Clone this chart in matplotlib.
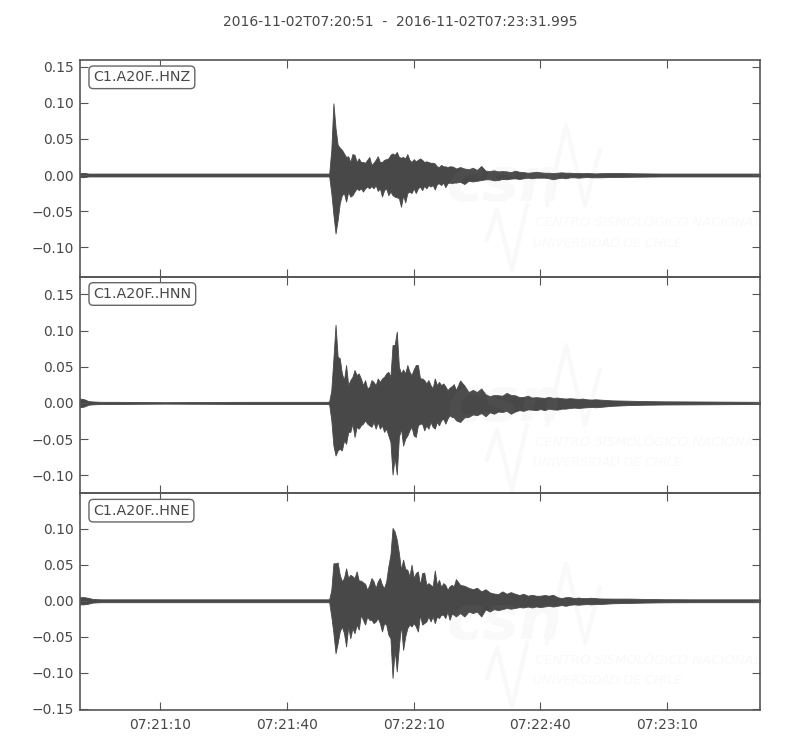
from datetime import datetime, timedelta

import matplotlib
matplotlib.use("Agg")
import matplotlib.pyplot as plt
import matplotlib.dates as mdates
import numpy as np

START = datetime(2016, 11, 2, 7, 20, 51)
DURATION = 160.995
TITLE = "2016-11-02T07:20:51  -  2016-11-02T07:23:31.995"
LABELS = ["C1.A20F..HNZ", "C1.A20F..HNN", "C1.A20F..HNE"]
TICK_TIMES = ["07:21:10", "07:21:40", "07:22:10", "07:22:40", "07:23:10"]
Y_TICKS = [-0.15, -0.10, -0.05, 0.00, 0.05, 0.10, 0.15]
Y_LIMS = [(-0.141, 0.1595), (-0.125, 0.1745), (-0.1515, 0.149)]

# envelope of each trace, seconds since START and amplitude x 1000
T_HEAD = [0, 1, 2, 3, 5, 8, 20, 40, 58.6]
T_MAIN = [59, 59.5, 60, 60.5, 61, 61.5, 62, 62.5, 63, 63.5, 64, 64.5, 65, 65.5, 66, 66.5,
          67, 67.5, 68, 68.5, 69, 69.5, 70, 70.5, 71, 71.5, 72, 72.5, 73, 73.5, 74, 74.5,
          75, 75.5, 76, 76.5, 77, 77.5, 78, 78.5, 79, 79.5, 80, 80.5, 81, 81.5, 82, 82.5,
          83, 83.5, 84, 84.5, 85, 85.5, 86, 86.5, 87, 87.5, 88, 88.5, 89]
T_TAIL = [90, 91, 92, 93, 94, 95, 96, 97, 98, 99, 100, 101, 102, 103, 104, 105, 106, 107,
          108, 109, 110, 111, 112, 113, 114, 115, 116, 117, 118, 119, 120, 121, 122, 123,
          126, 130, 134, 138, 145, 160.995]

HNZ_UP = [2.5, 3, 2, 2, 2, 2, 2, 2, 2,
          2, 35, 99.5, 65, 42, 38, 35, 30, 25, 26, 18, 29, 28, 18, 23, 18,
          18, 17, 21, 25, 14, 17, 21, 26, 18, 18, 21, 22, 23, 28, 30, 28,
          32, 25, 24, 25, 23, 29, 21, 18, 22, 19, 21, 23, 21, 18, 19, 18,
          17, 17, 16, 12, 11, 14, 12, 12, 11, 12, 12, 11, 9,
          11, 9, 8, 10, 7, 12.5, 6, 5.5, 6.5, 5, 5.5, 5, 4, 6, 4.5, 4, 3.2, 3.7, 4.5,
          3.7, 3.2, 3.2, 2.6, 3.2, 3.7, 3.2, 3.2, 2.8, 2.8, 2.5, 2.8, 2.5, 2.2, 2.5,
          2.8, 2.5, 2.2, 2, 2, 2]
HNZ_LOW = [3, 3, 2, 2, 2, 2, 2, 2, 2,
           2, 25, 55, 81, 62.5, 39, 28, 25, 37, 23, 30, 28, 23, 18.5, 21, 18.5,
           23, 18.5, 16, 18.5, 15.3, 18.5, 14, 22, 18.5, 30, 21, 18.5, 28, 23, 28, 30,
           31, 32, 44, 28, 38, 25, 23, 25, 18.5, 25, 18.5, 16, 21, 15, 18.5, 14,
           16, 14, 20, 12.5, 11.5, 14, 10.5, 17, 11.5, 10.5, 11.5, 10.5, 10.5,
           9.5, 12.5, 8, 9, 8, 7, 6, 6, 7.5, 7, 5.5, 6, 5, 4.6, 5.5, 4.6, 3.7, 4.6, 3.7,
           3.7, 3.7, 4.5, 6, 4.6, 3.7, 4.6, 3.2, 3.2, 3.7, 3.2, 2.8, 3.2, 3.2, 3.2,
           2.8, 2.5, 2.2, 2, 2, 2]

HNN_UP = [6, 5, 2.5, 2, 1.5, 1.5, 1, 1.5, 1.5,
          2, 17.6, 61.6, 108, 64, 61.6, 40.7, 31.5, 52.3, 24.5, 31.5, 36, 45.4, 38.4, 40.7, 33.8,
          24.5, 31.5, 20, 22, 31.5, 29, 24.5, 33.8, 29, 33.8, 36, 40.7, 43, 36, 80, 80,
          98.6, 50, 40.7, 46.3, 40.7, 52.3, 43, 38.4, 46.3, 52.3, 52.3, 33.8, 33.8, 31.5, 26.9, 31.5,
          24.5, 20, 33.8, 24.5, 29, 24.5, 26.9, 23, 17.6, 21, 23, 26, 17.6,
          31, 24, 15, 18, 15, 20, 12, 9.3, 11, 10.6, 10, 13.9, 11, 10.6, 8, 8.3, 10, 7.4,
          8, 7.4, 7, 8.3, 7, 7.4, 6.5, 6, 6.5, 6, 5.5, 6, 5, 4.6, 5, 4.6,
          3.5, 3, 2.5, 2.2, 2, 1.5]
HNN_LOW = [6, 5, 2.5, 2, 1.5, 1.5, 1, 1.5, 1.5,
           2.3, 24, 59, 72.7, 65.7, 63.4, 65.7, 52, 56.5, 40, 40, 28.7, 47, 33, 35.6, 31,
           28.7, 24, 28.7, 31, 33, 26.4, 35.6, 26.4, 35.6, 31, 40, 35.6, 45, 54, 99, 75,
           99, 47, 35.6, 59, 49.5, 45, 38, 33, 45, 47, 31, 28.7, 28.7, 38, 31, 35.6,
           26.4, 33, 35.6, 26.4, 31, 24, 21.8, 28.7, 21.8, 17, 19.4, 20, 24,
           26.4, 20, 19.4, 16, 17, 14, 18.5, 13, 15, 12, 12.5, 11, 15, 12, 10, 11, 9, 9.3,
           10, 8.5, 10, 7.9, 9, 9.3, 8, 7.9, 7, 6.5, 7, 6.5, 6, 5.6, 6, 5.6,
           4, 3, 2.5, 2.2, 2, 1.5]

HNE_UP = [5, 5, 4, 2.5, 2, 2, 2, 2, 2,
          2, 15, 52, 52, 53, 36, 27, 31.5, 45, 31.5, 36, 34, 31.5, 40.7, 28, 28,
          25.5, 23.6, 15, 22, 31.5, 27, 17.6, 27, 31.5, 22, 17.6, 27, 47.7, 64, 101, 96,
          84.7, 66, 43, 57, 44, 43, 34, 50, 31.5, 38.4, 40.7, 22, 38.4, 39, 22, 24.5,
          22, 20, 42, 22, 29, 19, 24.5, 22, 15, 20, 22, 20, 30,
          22, 20.8, 18, 16, 18, 13, 16, 11.6, 10, 9.3, 13, 9.7, 12, 9.7, 8, 9.7, 7, 8.3,
          7, 7, 8, 7, 8.3, 5, 3.7, 5, 5, 3.7, 4.5, 3.7, 3.7, 4.2, 3.7, 3.2,
          3, 3, 2.5, 2.2, 2, 2]
HNE_LOW = [5, 5, 4, 2.5, 2, 2, 2, 2, 2,
           2, 21.8, 45, 72.7, 58.8, 42.6, 35.6, 45, 63.4, 35.6, 52, 38, 45, 33, 40, 19.4,
           26.4, 33, 21.8, 26.4, 26.4, 31, 28.7, 24, 31, 42.6, 31, 33, 47, 52, 107, 68,
           98, 63.4, 33, 68, 49.5, 38, 33, 35.6, 31, 35.6, 42.6, 19.4, 33, 31, 28.7, 21.8,
           28.7, 21.8, 31, 21.8, 24, 19.4, 19.4, 24, 15, 26.4, 18, 19.4, 21.8,
           17, 21.8, 15, 17, 15, 21.8, 12, 15, 11.6, 13, 11.6, 10, 11, 10, 8.8, 9.3, 8, 9.3,
           7.9, 8.8, 7.9, 7, 8, 7, 6, 7, 5.6, 5, 5.5, 5, 4.6, 5, 4.6, 4.6,
           3.5, 3, 2.5, 2.2, 2, 2]

UPPER = [HNZ_UP, HNN_UP, HNE_UP]
LOWER = [HNZ_LOW, HNN_LOW, HNE_LOW]

TRACE_COLOR = "#484848"
FRAME_COLOR = "#555555"
TEXT_COLOR = "#484848"
MARK_COLOR = "#f9f9f9"

# faint logo strokes, figure pixels relative to the logo of the top panel
LOGO_LOW_X = [487, 497, 512, 527]
LOGO_LOW_Y = [240, 210, 270, 205]
LOGO_UP_X = [547, 566, 585, 600]
LOGO_UP_Y = [205, 125, 205, 150]
LOGO_SHIFT = [0, 220, 438]

W, H = 800, 750


def to_fig(px, py):
    return np.asarray(px) / W, 1 - np.asarray(py) / H


def draw_watermark(fig, shift):
    for xs, ys in [(LOGO_LOW_X, LOGO_LOW_Y), (LOGO_UP_X, LOGO_UP_Y)]:
        fx, fy = to_fig(xs, np.asarray(ys) + shift)
        fig.add_artist(plt.Line2D(fx, fy, color=MARK_COLOR, lw=3, zorder=-1))
    fig.text(*to_fig(505, 185 + shift), "csn", color=MARK_COLOR, fontsize=44, style="italic",
             fontweight="bold", ha="center", va="center", zorder=-1)
    fig.text(*to_fig(505, 185 + shift), "csn", color="white", alpha=0.03, fontsize=44, style="italic",
             fontweight="bold", ha="center", va="center", zorder=5)
    fig.text(*to_fig(535, 223 + shift), "CENTRO SISMOLÓGICO NACIONAL", color=MARK_COLOR,
             fontsize=9.5, style="italic", va="center", zorder=-1)
    fig.text(*to_fig(533, 243 + shift), "UNIVERSIDAD DE CHILE", color=MARK_COLOR,
             fontsize=9, style="italic", va="center", zorder=-1)


def fmt_amp(v, _pos):
    return f"{v:.2f}".replace("-", "\u2212")


def main():
    plt.rcParams["font.family"] = "DejaVu Sans"
    fig, axes = plt.subplots(3, 1, figsize=(W / 100, H / 100), sharex=True)
    fig.subplots_adjust(left=80 / W, right=760 / W, top=1 - 60 / H, bottom=1 - 710 / H, hspace=0)

    seconds = np.concatenate([T_HEAD, T_MAIN, T_TAIL])
    times = [START + timedelta(seconds=float(s)) for s in seconds]
    ticks = [datetime.strptime("2016-11-02 " + t, "%Y-%m-%d %H:%M:%S") for t in TICK_TIMES]

    for i, ax in enumerate(axes):
        ax.patch.set_alpha(0)
        ax.fill_between(times, -np.array(LOWER[i]) / 1000, np.array(UPPER[i]) / 1000,
                        color=TRACE_COLOR, lw=0.6)
        ax.set_ylim(*Y_LIMS[i])
        ax.set_xlim(START, START + timedelta(seconds=DURATION))
        ax.set_yticks([v for v in Y_TICKS if Y_LIMS[i][0] < v < Y_LIMS[i][1]])
        ax.yaxis.set_major_formatter(plt.FuncFormatter(fmt_amp))
        ax.set_xticks(ticks)
        ax.xaxis.set_major_formatter(mdates.DateFormatter("%H:%M:%S"))
        ax.tick_params(direction="in", top=True, right=True, length=6, width=0.8,
                       color=FRAME_COLOR, labelcolor=TEXT_COLOR, labelsize=10, pad=4.5)
        ax.tick_params(axis="x", pad=6)
        for spine in ax.spines.values():
            spine.set_color(FRAME_COLOR)
            spine.set_linewidth(1.2)
        ax.text(0.0195, 0.92, LABELS[i], transform=ax.transAxes, fontsize=10.3, color=TEXT_COLOR,
                ha="left", va="center",
                bbox=dict(boxstyle="round,pad=0.3", fc="white", ec="#666666", lw=1))

    for shift in LOGO_SHIFT:
        draw_watermark(fig, shift)

    fig.text(0.5, 1 - 21.5 / H, TITLE, ha="center", va="center", fontsize=10, color=TEXT_COLOR)
    fig.savefig("out.png", dpi=100, facecolor="white")


if __name__ == "__main__":
    main()
